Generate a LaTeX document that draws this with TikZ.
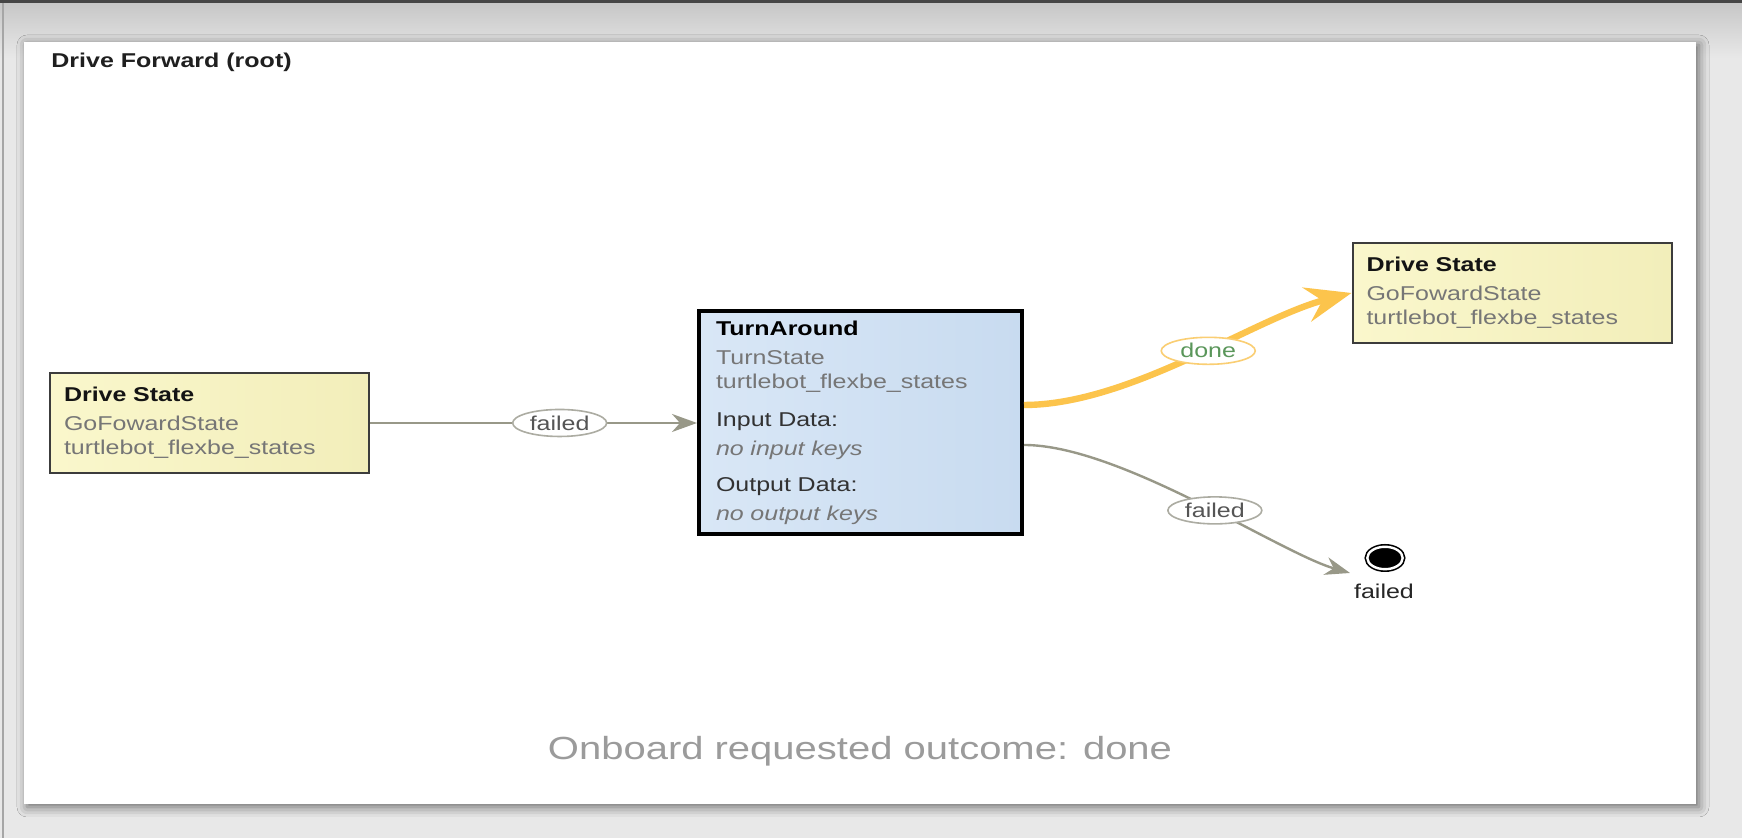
\documentclass[tikz,border=0pt]{standalone}
\usepackage{fontspec}
\setmainfont{Liberation Sans}[FakeStretch=1.25]
\usetikzlibrary{shapes,arrows.meta,positioning,shadows.blur}

\definecolor{bggray}{RGB}{232,232,232}
\definecolor{framedark}{RGB}{70,70,70}
\definecolor{boxline}{RGB}{60,60,60}
\definecolor{stateyellow}{RGB}{250,247,204}
\definecolor{stateyellowdark}{RGB}{242,238,186}
\definecolor{activeblue}{RGB}{217,231,246}
\definecolor{activebluedark}{RGB}{200,219,240}
\definecolor{subgray}{RGB}{118,118,118}
\definecolor{datagray}{RGB}{50,50,50}
\definecolor{transgray}{RGB}{152,152,136}
\definecolor{lblgray}{RGB}{172,172,162}
\definecolor{lbltext}{RGB}{85,85,85}
\definecolor{doneorange}{RGB}{252,196,76}
\definecolor{donelblline}{RGB}{250,206,115}
\definecolor{donegreen}{RGB}{90,150,90}
\definecolor{notegray}{RGB}{155,155,155}

\begin{document}
\begin{tikzpicture}[x=0.5pt, y=0.5pt]
\tikzstyle{statebox} = [draw=boxline, line width=1pt, rectangle, left color=stateyellow, right color=stateyellowdark, text width=145.5pt, inner xsep=7pt, inner ysep=0pt, minimum height=50pt, align=left, font=\fontsize{10}{12}\selectfont]
\tikzstyle{activebox} = [draw=black, line width=2pt, rectangle, left color=activeblue, right color=activebluedark, text width=144.5pt, inner xsep=8.5pt, inner ysep=0pt, minimum height=111.5pt, align=left, font=\fontsize{10}{12}\selectfont]
\tikzstyle{trans} = [draw=transgray, line width=1.2pt, -{Stealth[length=12.5pt, width=9pt, inset=4pt]}]
\tikzstyle{donetrans} = [draw=doneorange, line width=3.2pt, -{Stealth[length=23pt, width=17.5pt, inset=8pt]}]
\tikzstyle{translbl} = [ellipse, draw=lblgray, line width=0.8pt, fill=white, inner sep=0pt, minimum width=47pt, minimum height=13.5pt, text=lbltext, font=\fontsize{10}{12}\selectfont]
\tikzstyle{donelbl} = [translbl, draw=donelblline, text=donegreen]
\tikzstyle{endstate} = [ellipse, fill=black, draw=black, line width=0.8pt, double=white, double distance=1.2pt, minimum width=17.7pt, minimum height=11.2pt, inner sep=0pt]

\useasboundingbox (0,0) rectangle (1742,838);

% window background
\fill[bggray] (0,0) rectangle (1742,838);
\shade[top color=black!22, bottom color=bggray] (0,780) rectangle (1742,835);
\fill[framedark] (0,835) rectangle (1742,838);
\draw[black!35, line width=1pt] (3,0) -- (3,835);

% canvas
\fill[white, blur shadow={shadow xshift=1.5pt, shadow yshift=-1.5pt, shadow blur radius=5pt, shadow opacity=55}] (24,34) rectangle (1696,796);

\node[anchor=base west, inner sep=0pt, text=black!88, font=\fontsize{10}{12}\selectfont\bfseries] (title) at (51,770) {Drive Forward (root)};

% states
\node[statebox] (driveleft) at (209.5,415) {\textcolor{black!92}{\bfseries Drive State}\\[2.5pt]\textcolor{subgray}{GoFowardState}\\\textcolor{subgray}{turtlebot\_flexbe\_states}};
\node[activebox] (turn) at (860.5,415) {\textcolor{black}{\bfseries TurnAround}\\[2.5pt]\textcolor{subgray}{TurnState}\\\textcolor{subgray}{turtlebot\_flexbe\_states}\\[7pt]\textcolor{datagray}{Input Data:}\\[2.4pt]\textcolor{subgray}{\itshape no input keys}\\[6.1pt]\textcolor{datagray}{Output Data:}\\[2.2pt]\textcolor{subgray}{\itshape no output keys}};
\node[statebox] (driveright) at (1512,545) {\textcolor{black!92}{\bfseries Drive State}\\[2.5pt]\textcolor{subgray}{GoFowardState}\\\textcolor{subgray}{turtlebot\_flexbe\_states}};

% outcome
\node[endstate] (failedout) at (1385,280) {};
\node[anchor=base, inner sep=0pt, text=black!85, font=\fontsize{10}{12}\selectfont] (failedtext) at (1384,239) {failed};
\coordinate (failedin) at (1350,265);

% transitions
\draw[trans] (driveleft.east) -- node[translbl, pos=0.58] (lblfailed) {failed} (turn.west);
\draw[donetrans] ([yshift=9pt]turn.east) .. controls (1130,433) and (1255,520) .. node[donelbl, pos=0.55] (lbldone) {done} (driveright.west);
\draw[trans] ([yshift=-11pt]turn.east) .. controls (1120,393) and (1280,285) .. node[translbl, pos=0.55] (lblfailedb) {failed} (failedin);

\node[anchor=base, inner sep=0pt, text=notegray, font=\fontsize{16}{19}\selectfont] (note) at (860,78) {Onboard requested outcome: done};
\end{tikzpicture}
\end{document}
